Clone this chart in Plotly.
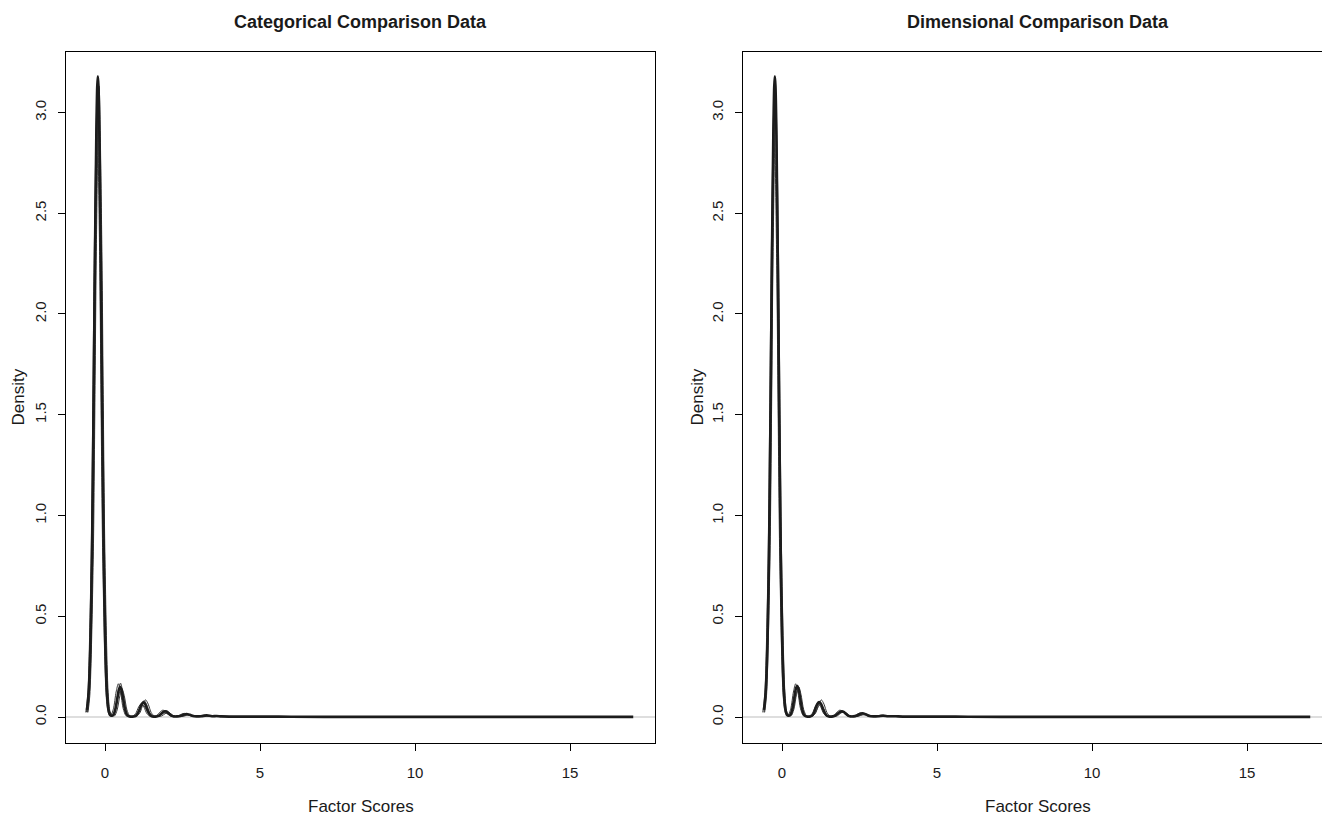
import plotly.graph_objects as go

W, H = 1322, 815

# ---------------- data ----------------
# thick (observed) density curve, left panel
cat_main_x = [-0.58, -0.52, -0.47, -0.42, -0.37, -0.32, -0.28, -0.25, -0.23, -0.21, -0.18, -0.14,
              -0.09, -0.04, 0.01, 0.06, 0.11, 0.16, 0.22, 0.28, 0.34, 0.40, 0.45, 0.49, 0.53, 0.58,
              0.64, 0.70, 0.76, 0.82, 0.90, 0.98, 1.05, 1.12, 1.18, 1.24, 1.30, 1.36, 1.43, 1.50,
              1.58, 1.66, 1.74, 1.82, 1.88, 1.94, 2.00, 2.06, 2.14, 2.22, 2.32, 2.42, 2.52, 2.63,
              2.74, 2.84, 2.95, 3.10, 3.28, 3.45, 3.60, 3.75, 4.0, 5.0, 5.6, 6.0, 8.0, 10.0, 12.0,
              14.0, 16.0, 17.04]
cat_main_y = [0.035, 0.14, 0.36, 0.81, 1.52, 2.34, 2.89, 3.13, 3.18, 3.13, 2.89, 2.34,
              1.52, 0.81, 0.36, 0.13, 0.04, 0.01, 0.006, 0.013, 0.043, 0.096, 0.137, 0.150, 0.137, 0.096,
              0.043, 0.013, 0.004, 0.002, 0.002, 0.0045, 0.016, 0.040, 0.063, 0.073, 0.063, 0.040, 0.016, 0.0045,
              0.002, 0.003, 0.007, 0.017, 0.025, 0.028, 0.025, 0.017, 0.007, 0.003, 0.003, 0.005, 0.011, 0.015,
              0.011, 0.005, 0.003, 0.004, 0.008, 0.004, 0.005, 0.003, 0.002, 0.002, 0.002, 0.001, 0.0005, 0.0005, 0.0005,
              0.0005, 0.0005, 0.0005]

# thin (imputed) density curves, left panel
cat_a_x = [-0.55, -0.49, -0.38, -0.325, -0.277, -0.19, -0.103, -0.055, 0.0, 0.11, 0.18,
           0.30, 0.392, 0.478, 0.55, 0.622, 0.708, 0.80,
           0.92, 1.02, 1.127, 1.226, 1.31, 1.394, 1.493, 1.60,
           1.72, 1.83, 1.94, 2.03, 2.12, 2.23, 2.36,
           2.52, 2.64, 2.74, 2.84, 2.96,
           3.18, 3.36, 3.54, 3.76, 4.2, 5.0, 5.4]
cat_a_y = [0.023, 0.106, 0.78, 1.56, 2.35, 3.13, 2.35, 1.56, 0.78, 0.10, 0.02,
           0.005, 0.035, 0.105, 0.14, 0.105, 0.035, 0.005,
           0.001, 0.004, 0.021, 0.064, 0.085, 0.064, 0.021, 0.004,
           0.002, 0.0055, 0.0165, 0.022, 0.0165, 0.0055, 0.002,
           0.003, 0.009, 0.012, 0.009, 0.003,
           0.003, 0.006, 0.003, 0.003, 0.002, 0.002, 0.001]
cat_b_x = [-0.62, -0.56, -0.45, -0.395, -0.347, -0.26, -0.173, -0.125, -0.07, 0.04, 0.11,
           0.18, 0.272, 0.358, 0.43, 0.502, 0.588, 0.68,
           0.80, 0.88, 0.987, 1.086, 1.17, 1.254, 1.353, 1.46,
           1.57, 1.67, 1.78, 1.87, 1.96, 2.07, 2.20,
           2.34, 2.46, 2.56, 2.66, 2.78,
           3.02, 3.22, 3.40, 3.62, 4.0, 4.8, 5.2]
cat_b_y = [0.023, 0.10, 0.76, 1.52, 2.29, 3.05, 2.29, 1.52, 0.76, 0.10, 0.02,
           0.006, 0.041, 0.124, 0.165, 0.124, 0.041, 0.006,
           0.001, 0.003, 0.0165, 0.05, 0.066, 0.05, 0.0165, 0.003,
           0.002, 0.0085, 0.0255, 0.034, 0.0255, 0.0085, 0.002,
           0.004, 0.0135, 0.018, 0.0135, 0.004,
           0.003, 0.01, 0.004, 0.004, 0.002, 0.002, 0.001]
cat_c_x = [-0.57, -0.51, -0.40, -0.345, -0.297, -0.21, -0.123, -0.075, -0.02, 0.09, 0.16,
           0.25, 0.342, 0.428, 0.50, 0.572, 0.658, 0.75,
           0.88, 0.97, 1.077, 1.176, 1.26, 1.344, 1.443, 1.55,
           1.66, 1.77, 1.88, 1.97, 2.06, 2.17, 2.30,
           2.44, 2.56, 2.66, 2.76, 2.88,
           3.15, 3.35, 3.55, 3.9, 4.4, 5.1, 5.6]
cat_c_y = [0.023, 0.105, 0.775, 1.55, 2.32, 3.10, 2.32, 1.55, 0.775, 0.105, 0.02,
           0.006, 0.042, 0.126, 0.168, 0.126, 0.042, 0.006,
           0.001, 0.004, 0.0205, 0.0615, 0.082, 0.0615, 0.0205, 0.004,
           0.002, 0.008, 0.024, 0.032, 0.024, 0.008, 0.002,
           0.003, 0.008, 0.011, 0.008, 0.003,
           0.004, 0.006, 0.003, 0.003, 0.002, 0.002, 0.001]
cat_d_x = [-0.60, -0.54, -0.43, -0.375, -0.327, -0.24, -0.153, -0.105, -0.05, 0.06, 0.13,
           0.24, 0.332, 0.418, 0.49, 0.562, 0.648, 0.74,
           0.85, 0.93, 1.037, 1.136, 1.22, 1.304, 1.403, 1.51,
           1.63, 1.73, 1.84, 1.93, 2.02, 2.13, 2.26,
           2.40, 2.52, 2.62, 2.72, 2.84,
           3.05, 3.25, 3.45, 3.7, 4.1, 5.0, 5.5]
cat_d_y = [0.024, 0.107, 0.79, 1.58, 2.36, 3.15, 2.36, 1.58, 0.79, 0.107, 0.02,
           0.004, 0.032, 0.096, 0.128, 0.096, 0.032, 0.004,
           0.001, 0.003, 0.015, 0.045, 0.060, 0.045, 0.015, 0.003,
           0.002, 0.005, 0.015, 0.020, 0.015, 0.005, 0.002,
           0.003, 0.0105, 0.014, 0.0105, 0.003,
           0.004, 0.008, 0.003, 0.004, 0.002, 0.002, 0.001]

# right panel
dim_main_x = [-0.58, -0.52, -0.47, -0.42, -0.37, -0.32, -0.28, -0.25, -0.23, -0.21, -0.18, -0.14,
              -0.09, -0.04, 0.01, 0.06, 0.11, 0.16, 0.22, 0.28, 0.34, 0.40, 0.45, 0.49, 0.53, 0.58,
              0.64, 0.70, 0.76, 0.82, 0.88, 0.95, 1.02, 1.08, 1.14, 1.20, 1.26, 1.32, 1.39, 1.46,
              1.54, 1.64, 1.72, 1.81, 1.87, 1.93, 1.99, 2.05, 2.13, 2.21, 2.30, 2.40, 2.50, 2.60,
              2.71, 2.82, 2.95, 3.10, 3.26, 3.42, 3.58, 3.75, 4.0, 5.0, 5.6, 6.0, 8.0, 10.0, 12.0,
              14.0, 16.0, 17.04]
dim_main_y = [0.035, 0.14, 0.36, 0.81, 1.52, 2.34, 2.89, 3.13, 3.18, 3.13, 2.89, 2.34,
              1.52, 0.81, 0.36, 0.13, 0.04, 0.01, 0.006, 0.013, 0.045, 0.100, 0.142, 0.155, 0.142, 0.100,
              0.045, 0.013, 0.004, 0.002, 0.002, 0.005, 0.017, 0.042, 0.065, 0.074, 0.065, 0.042, 0.017, 0.005,
              0.002, 0.003, 0.007, 0.018, 0.025, 0.028, 0.025, 0.018, 0.007, 0.003, 0.003, 0.006, 0.014, 0.019,
              0.013, 0.005, 0.003, 0.004, 0.007, 0.004, 0.004, 0.003, 0.002, 0.002, 0.002, 0.001, 0.0005, 0.0005, 0.0005,
              0.0005, 0.0005, 0.0005]
dim_a_x = [-0.56, -0.50, -0.39, -0.335, -0.287, -0.20, -0.113, -0.065, -0.01, 0.10, 0.17,
           0.29, 0.382, 0.468, 0.54, 0.612, 0.698, 0.79,
           0.89, 0.98, 1.087, 1.186, 1.27, 1.354, 1.453, 1.56,
           1.68, 1.79, 1.90, 1.99, 2.08, 2.19, 2.32,
           2.46, 2.58, 2.68, 2.78, 2.90,
           3.10, 3.28, 3.46, 3.70, 4.2, 4.9, 5.3]
dim_a_y = [0.023, 0.105, 0.77, 1.54, 2.31, 3.08, 2.31, 1.54, 0.77, 0.105, 0.02,
           0.006, 0.0375, 0.1125, 0.150, 0.1125, 0.0375, 0.006,
           0.001, 0.004, 0.021, 0.064, 0.085, 0.064, 0.021, 0.004,
           0.002, 0.0065, 0.0195, 0.026, 0.0195, 0.0065, 0.002,
           0.004, 0.012, 0.016, 0.012, 0.004,
           0.003, 0.007, 0.003, 0.003, 0.002, 0.002, 0.001]
dim_b_x = [-0.62, -0.56, -0.45, -0.395, -0.347, -0.26, -0.173, -0.125, -0.07, 0.04, 0.11,
           0.19, 0.282, 0.368, 0.44, 0.512, 0.598, 0.69,
           0.78, 0.87, 0.977, 1.076, 1.16, 1.244, 1.343, 1.45,
           1.56, 1.67, 1.78, 1.87, 1.96, 2.07, 2.20,
           2.33, 2.45, 2.55, 2.65, 2.77,
           3.00, 3.20, 3.38, 3.60, 4.0, 4.7, 5.1]
dim_b_y = [0.023, 0.10, 0.76, 1.52, 2.28, 3.04, 2.28, 1.52, 0.76, 0.10, 0.02,
           0.006, 0.041, 0.124, 0.165, 0.124, 0.041, 0.006,
           0.001, 0.0035, 0.0175, 0.0525, 0.07, 0.0525, 0.0175, 0.0035,
           0.002, 0.0085, 0.0255, 0.034, 0.0255, 0.0085, 0.002,
           0.005, 0.016, 0.021, 0.016, 0.005,
           0.003, 0.009, 0.004, 0.004, 0.002, 0.002, 0.001]
dim_c_x = [-0.58, -0.52, -0.41, -0.355, -0.307, -0.22, -0.133, -0.085, -0.03, 0.08, 0.15,
           0.26, 0.352, 0.438, 0.51, 0.582, 0.668, 0.76,
           0.86, 0.95, 1.057, 1.156, 1.24, 1.324, 1.423, 1.53,
           1.64, 1.75, 1.86, 1.95, 2.04, 2.15, 2.28,
           2.42, 2.54, 2.64, 2.74, 2.86,
           3.15, 3.35, 3.55, 4.0, 4.6, 5.4]
dim_c_y = [0.023, 0.105, 0.78, 1.56, 2.34, 3.12, 2.34, 1.56, 0.78, 0.105, 0.02,
           0.005, 0.034, 0.101, 0.135, 0.101, 0.034, 0.005,
           0.001, 0.003, 0.0155, 0.0465, 0.062, 0.0465, 0.0155, 0.003,
           0.002, 0.0075, 0.0225, 0.03, 0.0225, 0.0075, 0.002,
           0.003, 0.008, 0.011, 0.008, 0.003,
           0.004, 0.006, 0.003, 0.002, 0.002, 0.001]

y_ticks = [0, 0.5, 1.0, 1.5, 2.0, 2.5, 3.0]
y_tick_text = ["0.0", "0.5", "1.0", "1.5", "2.0", "2.5", "3.0"]
x_ticks = [0, 5, 10, 15]

# ---------------- layout geometry ----------------
def px_x(p):
    return p / W

def px_y(p):
    return 1 - p / H

box_top, box_bot = 52, 743
left_l, left_r = 66, 655
right_l, right_r = 743, 1332   # right panel box is cut by the picture edge

yrange = [-0.129, 3.300]
xr_left = [-1.258, 17.742]
xr_right = [-1.258, (W - 782) / 31.0]

FONT = "Liberation Sans, Arial, sans-serif"
THIN = "#3a3a3a"
THICK = "#1c1c1c"
TXT = "#1a1a1a"

fig = go.Figure()

panels = [
    ("x", "y", [cat_a_x, cat_b_x, cat_c_x, cat_d_x], [cat_a_y, cat_b_y, cat_c_y, cat_d_y], cat_main_x, cat_main_y),
    ("x2", "y2", [dim_a_x, dim_b_x, dim_c_x], [dim_a_y, dim_b_y, dim_c_y], dim_main_x, dim_main_y),
]
for xa, ya, txs, tys, mx, my in panels:
    for tx, ty in zip(txs, tys):
        fig.add_trace(go.Scatter(x=tx, y=ty, mode="lines", xaxis=xa, yaxis=ya,
                                 line=dict(color=THIN, width=1, shape="spline", smoothing=0.8),
                                 hoverinfo="skip", showlegend=False))
    fig.add_trace(go.Scatter(x=mx, y=my, mode="lines", xaxis=xa, yaxis=ya,
                             line=dict(color=THICK, width=2.6, shape="spline", smoothing=0.8),
                             showlegend=False))

axis_common = dict(showgrid=False, zeroline=False, showline=True, linecolor="black", linewidth=1,
                   ticks="outside", ticklen=7, tickwidth=1, tickcolor="black",
                   tickfont=dict(family=FONT, size=15, color=TXT))

fig.update_layout(
    width=W, height=H, margin=dict(l=0, r=0, t=0, b=0),
    paper_bgcolor="white", plot_bgcolor="white",
    xaxis=dict(domain=[px_x(left_l), px_x(left_r)], range=xr_left, anchor="y", mirror=True,
               tickvals=x_ticks, ticklabelstandoff=9, **axis_common),
    yaxis=dict(domain=[px_y(box_bot), px_y(box_top)], range=yrange, anchor="x", mirror=True,
               tickvals=y_ticks, ticktext=y_tick_text,
               tickangle=-90, ticklabelstandoff=6, **axis_common),
    xaxis2=dict(domain=[px_x(right_l), 1.0], range=xr_right, anchor="y2", mirror=True,
                tickvals=x_ticks, ticklabelstandoff=9, **axis_common),
    yaxis2=dict(domain=[px_y(box_bot), px_y(box_top)], range=yrange, anchor="x2", mirror=False,
                tickvals=y_ticks, ticktext=y_tick_text,
                tickangle=-90, ticklabelstandoff=6, **axis_common),
)

# grey zero reference lines
for xa, ya in [("x", "y"), ("x2", "y2")]:
    fig.add_shape(type="line", xref=f"{xa} domain", yref=ya, x0=0, x1=1, y0=0, y1=0,
                  line=dict(color="#bdbdbd", width=1), layer="below")

titles = [("Categorical Comparison Data", (left_l + left_r) / 2),
          ("Dimensional Comparison Data", (right_l + right_r) / 2)]
for text, cx in titles:
    fig.add_annotation(text=f"<b>{text}</b>", xref="paper", yref="paper", x=px_x(cx), y=px_y(22),
                       showarrow=False, xanchor="center", yanchor="middle",
                       font=dict(family=FONT, size=18, color=TXT))
for cx in [(left_l + left_r) / 2, (right_l + right_r) / 2]:
    fig.add_annotation(text="Factor Scores", xref="paper", yref="paper", x=px_x(cx), y=px_y(806),
                       showarrow=False, xanchor="center", yanchor="middle",
                       font=dict(family=FONT, size=17, color=TXT))
for cx in [18, 697]:
    fig.add_annotation(text="Density", xref="paper", yref="paper", x=px_x(cx), y=px_y((box_top + box_bot) / 2),
                       showarrow=False, xanchor="center", yanchor="middle", textangle=-90,
                       font=dict(family=FONT, size=17, color=TXT))

fig.write_html("out.html")
